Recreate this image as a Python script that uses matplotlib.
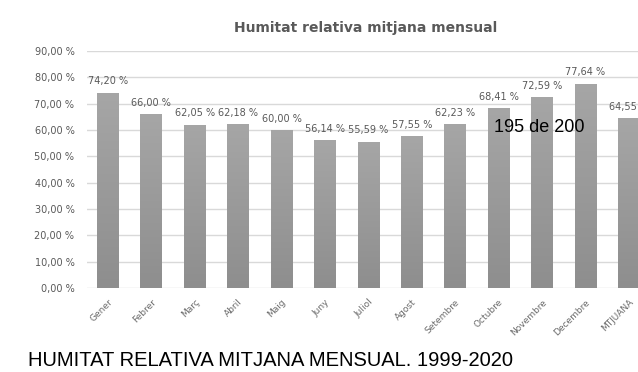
import matplotlib
matplotlib.use("Agg")
import matplotlib.pyplot as plt
import numpy as np

MONTHS = ["Gener", "Febrer", "Març", "Abril", "Maig", "Juny", "Juliol",
          "Agost", "Setembre", "Octubre", "Novembre", "Decembre", "MTJUANA"]
HUMIDITY = [74.20, 66.00, 62.05, 62.18, 60.00, 56.14, 55.59,
            57.55, 62.23, 68.41, 72.59, 77.64, 64.55]
Y_TICKS = [0, 10, 20, 30, 40, 50, 60, 70, 80, 90]

GREY_TEXT = "#595959"


def pct(v):
    return f"{v:.2f}".replace(".", ",") + " %"


fig = plt.figure(figsize=(6.38, 3.72), dpi=100)
ax = fig.add_axes([87 / 638, 84 / 372, 551 / 638, 237 / 372])

x = np.arange(len(MONTHS))
bars = ax.bar(x, HUMIDITY, width=0.5, color="#9c9c9c", zorder=2)

# vertical shading inside each bar, lighter on top
shade = matplotlib.colors.LinearSegmentedColormap.from_list("g", ["#8e8e8e", "#a6a6a6"])
grad = np.linspace(0, 1, 256).reshape(-1, 1)
for b in bars:
    x0, w, h = b.get_x(), b.get_width(), b.get_height()
    im = ax.imshow(grad, extent=[x0, x0 + w, 0, h], origin="lower",
                   cmap=shade, aspect="auto", zorder=3)
    im.set_clip_path(b)

for xi, v in zip(x, HUMIDITY):
    ax.text(xi, v + 2.4, pct(v), ha="center", va="bottom",
            fontsize=7, color=GREY_TEXT, zorder=4)

ax.set_xlim(-0.48, 12.21)
ax.set_ylim(0, 90)
ax.set_yticks(Y_TICKS)
ax.set_yticklabels([pct(t) for t in Y_TICKS], fontsize=7, color=GREY_TEXT)
ax.set_xticks(x)
ax.set_xticklabels(MONTHS, rotation=45, ha="right", rotation_mode="anchor",
                   fontsize=6.5, color="#6b6b6b")
ax.tick_params(axis="both", length=0)
ax.tick_params(axis="y", pad=9)
ax.tick_params(axis="x", pad=7)
ax.grid(axis="y", color="#d9d9d9", linewidth=1, zorder=0)
ax.set_axisbelow(True)
for s in ax.spines.values():
    s.set_visible(False)

fig.text(366 / 638, 1 - 28 / 372, "Humitat relativa mitjana mensual",
         ha="center", va="center", fontsize=10, fontweight="bold",
         color=GREY_TEXT)
fig.text(539 / 638, 1 - 128 / 372, "195 de 200", ha="center", va="center",
         fontsize=13, color="black", family=["Liberation Sans", "DejaVu Sans"])
fig.text(28 / 638, 1 - 351 / 372, "HUMITAT RELATIVA MITJANA MENSUAL. 1999-2020",
         ha="left", va="top", fontsize=14.5, color="black",
         family=["Liberation Sans", "DejaVu Sans"])

fig.savefig("out.png", dpi=100)
